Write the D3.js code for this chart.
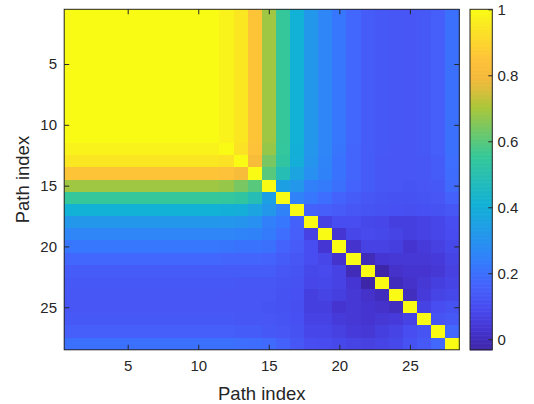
<!DOCTYPE html>
<html>
<head>
<meta charset="utf-8">
<script src="https://cdn.jsdelivr.net/npm/d3@7"></script>
<style>
  body { margin: 0; background: #ffffff; }
  svg { display: block; font-family: "Liberation Sans", Arial, Helvetica, sans-serif; }
</style>
</head>
<body>
<svg id="chart" width="534" height="404"></svg>
<script>
// ---------------- DATA ----------------
// Path indices (rows and columns of the similarity matrix)
const pathIndex = [1,2,3,4,5,6,7,8,9,10,11,12,13,14,15,16,17,18,19,20,21,22,23,24,25,26,27,28];

// Axis tick values / colorbar ticks
const xTickValues = [5, 10, 15, 20, 25];
const yTickValues = [5, 10, 15, 20, 25];
const colorbarTicks = [0, 0.2, 0.4, 0.6, 0.8, 1];
const colorbarTickLabels = ["0", "0.2", "0.4", "0.6", "0.8", "1"];
const colorLimits = [-0.032, 1];

// Diagonal of the matrix
const diagonalValues = [1,1,1,1,1,1,1,1,1,1,1,1,1,1,1,1,1,1,1,1,1,1,1,1,1,1,1,1];

// Upper triangle, row by row: row r holds values for columns r+1 .. 28 (matrix is symmetric)
const upperRow1  = [1,1,1,1,1,1,1,1,1,1, 0.975,0.945,0.855,0.69,0.55,0.41,0.32,0.26,0.22,0.175,0.145,0.135,0.13,0.125,0.135,0.15,0.2];
const upperRow2  = [1,1,1,1,1,1,1,1,1, 0.975,0.945,0.855,0.69,0.55,0.41,0.32,0.26,0.22,0.175,0.145,0.135,0.13,0.125,0.135,0.15,0.2];
const upperRow3  = [1,1,1,1,1,1,1,1, 0.975,0.945,0.855,0.69,0.55,0.41,0.32,0.26,0.22,0.175,0.145,0.135,0.13,0.125,0.135,0.15,0.2];
const upperRow4  = [1,1,1,1,1,1,1, 0.975,0.945,0.855,0.69,0.55,0.41,0.32,0.26,0.22,0.175,0.145,0.135,0.13,0.125,0.135,0.15,0.2];
const upperRow5  = [1,1,1,1,1,1, 0.975,0.945,0.855,0.69,0.55,0.41,0.32,0.26,0.22,0.175,0.145,0.135,0.13,0.125,0.135,0.15,0.2];
const upperRow6  = [1,1,1,1,1, 0.975,0.945,0.855,0.69,0.55,0.41,0.32,0.26,0.22,0.175,0.145,0.135,0.13,0.125,0.135,0.15,0.2];
const upperRow7  = [1,1,1,1, 0.975,0.945,0.855,0.69,0.55,0.41,0.32,0.26,0.22,0.175,0.145,0.135,0.13,0.125,0.135,0.15,0.2];
const upperRow8  = [1,1,1, 0.975,0.945,0.855,0.69,0.55,0.41,0.32,0.26,0.22,0.175,0.145,0.135,0.13,0.125,0.135,0.15,0.2];
const upperRow9  = [1,1, 0.975,0.945,0.855,0.69,0.55,0.41,0.32,0.26,0.22,0.175,0.145,0.135,0.13,0.125,0.135,0.15,0.2];
const upperRow10 = [1, 0.975,0.945,0.855,0.69,0.55,0.41,0.32,0.26,0.22,0.175,0.145,0.135,0.13,0.125,0.135,0.15,0.2];
const upperRow11 = [0.975,0.945,0.855,0.69,0.55,0.41,0.32,0.26,0.22,0.175,0.145,0.135,0.13,0.125,0.135,0.15,0.2];
const upperRow12 = [0.935,0.845,0.68,0.545,0.405,0.315,0.26,0.215,0.17,0.145,0.135,0.125,0.125,0.135,0.15,0.2];
const upperRow13 = [0.81,0.64,0.535,0.40,0.31,0.255,0.21,0.17,0.145,0.13,0.125,0.125,0.13,0.145,0.195];
const upperRow14 = [0.60,0.49,0.365,0.295,0.25,0.21,0.17,0.145,0.13,0.125,0.125,0.13,0.145,0.19];
const upperRow15 = [0.35,0.32,0.245,0.23,0.20,0.165,0.145,0.13,0.125,0.12,0.125,0.135,0.185];
const upperRow16 = [0.25,0.22,0.195,0.165,0.145,0.13,0.12,0.115,0.115,0.12,0.125,0.16];
const upperRow17 = [0.16,0.15,0.14,0.13,0.12,0.115,0.11,0.105,0.11,0.115,0.13];
const upperRow18 = [0.07,0.10,0.10,0.085,0.08,0.06,0.06,0.07,0.08,0.10];
const upperRow19 = [0.035,0.08,0.09,0.085,0.075,0.06,0.07,0.08,0.095];
const upperRow20 = [0.025,0.07,0.07,0.06,0.03,0.05,0.065,0.085];
const upperRow21 = [-0.005,0.035,0.04,0.04,0.04,0.05,0.075];
const upperRow22 = [-0.03,0.02,0.03,0.03,0.04,0.065];
const upperRow23 = [0.0,0.02,0.04,0.06,0.075];
const upperRow24 = [0.005,0.05,0.075,0.085];
const upperRow25 = [0.07,0.10,0.115];
const upperRow26 = [0.12,0.135];
const upperRow27 = [0.175];
const upperRow28 = [];

const upperRows = [upperRow1,upperRow2,upperRow3,upperRow4,upperRow5,upperRow6,upperRow7,
  upperRow8,upperRow9,upperRow10,upperRow11,upperRow12,upperRow13,upperRow14,upperRow15,
  upperRow16,upperRow17,upperRow18,upperRow19,upperRow20,upperRow21,upperRow22,upperRow23,
  upperRow24,upperRow25,upperRow26,upperRow27,upperRow28];

// Parula colormap anchor colours (position 0..1 along the map)
const parulaStops = [
  [0.000, "#3e26a8"], [0.0625, "#4535d2"], [0.125, "#484cf0"], [0.1875, "#4562fc"],
  [0.250, "#3579fd"], [0.2857, "#2e87f7"], [0.4286, "#12b1d6"], [0.5714, "#37c897"],
  [0.7143, "#abc739"], [0.760, "#d7be3c"], [0.800, "#f5b93c"], [0.8571, "#fec338"],
  [1.000, "#f9fb15"]
];

// ---------------- BUILD ----------------
const n = pathIndex.length;
const cells = [];
pathIndex.forEach((ri, i) => {
  pathIndex.forEach((cj, j) => {
    let v;
    if (i === j) v = diagonalValues[i];
    else if (j > i) v = upperRows[i][j - i - 1];
    else v = upperRows[j][i - j - 1];
    cells.push({ row: ri, col: cj, value: v });
  });
});

const svg = d3.select("#chart");
const plot = { left: 64.2, right: 459.3, top: 9.3, bottom: 349.8 };
const cb = { left: 470, right: 492.3 };
const textColor = "#262626";

const x = d3.scaleLinear().domain([0.5, n + 0.5]).range([plot.left, plot.right]);
const y = d3.scaleLinear().domain([0.5, n + 0.5]).range([plot.top, plot.bottom]);

const span = colorLimits[1] - colorLimits[0];
const color = d3.scaleLinear()
  .domain(parulaStops.map(s => colorLimits[0] + s[0] * span))
  .range(parulaStops.map(s => s[1]))
  .interpolate(d3.interpolateRgb)
  .clamp(true);

// heatmap cells
svg.append("g")
  .selectAll("rect")
  .data(cells)
  .join("rect")
  .attr("x", d => x(d.col - 0.5))
  .attr("y", d => y(d.row - 0.5))
  .attr("width", d => x(d.col + 0.5) - x(d.col - 0.5) + 0.4)
  .attr("height", d => y(d.row + 0.5) - y(d.row - 0.5) + 0.4)
  .attr("fill", d => color(d.value))
  .attr("shape-rendering", "crispEdges");

// axes
function styleAxis(g) {
  g.select(".domain").remove();
  g.selectAll(".tick line").attr("stroke", textColor).attr("stroke-width", 1);
  g.selectAll(".tick text").attr("fill", textColor).attr("font-size", "15px");
}

svg.append("g")
  .attr("transform", `translate(0,${plot.bottom})`)
  .call(d3.axisBottom(x).tickValues(xTickValues).tickSizeInner(-5).tickSizeOuter(0).tickPadding(10.5))
  .call(styleAxis)
  .attr("font-family", null);

svg.append("g")
  .attr("transform", `translate(0,${plot.top})`)
  .call(d3.axisTop(x).tickValues(xTickValues).tickSizeInner(-5).tickSizeOuter(0).tickFormat(""))
  .call(styleAxis);

svg.append("g")
  .attr("transform", `translate(${plot.left},0)`)
  .call(d3.axisLeft(y).tickValues(yTickValues).tickSizeInner(-5).tickSizeOuter(0).tickPadding(7.2))
  .call(styleAxis)
  .attr("font-family", null);

svg.append("g")
  .attr("transform", `translate(${plot.right},0)`)
  .call(d3.axisRight(y).tickValues(yTickValues).tickSizeInner(-5).tickSizeOuter(0).tickFormat(""))
  .call(styleAxis);

// frame
svg.append("rect")
  .attr("x", plot.left).attr("y", plot.top)
  .attr("width", plot.right - plot.left).attr("height", plot.bottom - plot.top)
  .attr("fill", "none").attr("stroke", textColor).attr("stroke-width", 1);

// axis labels
svg.append("text")
  .attr("x", (plot.left + plot.right) / 2).attr("y", 400)
  .attr("text-anchor", "middle").attr("fill", textColor).attr("font-size", "18.5px")
  .text("Path index");

svg.append("text")
  .attr("transform", `translate(29,${(plot.top + plot.bottom) / 2}) rotate(-90)`)
  .attr("text-anchor", "middle").attr("fill", textColor).attr("font-size", "18.5px")
  .text("Path index");

// colorbar
const yc = d3.scaleLinear().domain(colorLimits).range([plot.bottom, plot.top]);
const nSteps = 256;
const steps = d3.range(nSteps).map(k => colorLimits[0] + (k + 0.5) * span / nSteps);
svg.append("g")
  .selectAll("rect")
  .data(steps)
  .join("rect")
  .attr("x", cb.left)
  .attr("width", cb.right - cb.left)
  .attr("y", d => yc(d + 0.5 * span / nSteps))
  .attr("height", (plot.bottom - plot.top) / nSteps + 0.6)
  .attr("fill", d => color(d));

svg.append("rect")
  .attr("x", cb.left).attr("y", plot.top)
  .attr("width", cb.right - cb.left).attr("height", plot.bottom - plot.top)
  .attr("fill", "none").attr("stroke", textColor).attr("stroke-width", 1);

svg.append("g")
  .attr("transform", `translate(${cb.right},0)`)
  .call(d3.axisRight(yc).tickValues(colorbarTicks).tickSizeInner(-4).tickSizeOuter(0).tickPadding(5.2)
    .tickFormat((d, i) => colorbarTickLabels[i]))
  .call(styleAxis)
  .attr("font-family", null);
</script>
</body>
</html>
